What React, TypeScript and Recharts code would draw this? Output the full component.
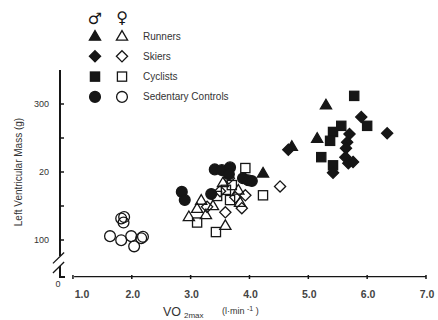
import React from 'react';
import { ScatterChart, Scatter, XAxis, YAxis, ReferenceLine, Label } from 'recharts';

// VO2max (l/min) vs left ventricular mass (g), one array per group
const maleRunners = [[5.3, 299], [5.15, 250], [4.72, 238], [4.23, 199]];
const femaleRunners = [[2.97, 135], [3.11, 147], [3.26, 138], [3.18, 159], [3.38, 151], [3.59, 122], [3.84, 156], [3.81, 174], [3.55, 185]];
const maleSkiers = [[5.9, 281], [6.34, 257], [5.7, 256], [5.66, 244], [5.64, 235], [5.63, 222], [5.68, 213], [5.76, 215], [5.42, 199], [4.66, 233]];
const femaleSkiers = [[3.28, 149], [3.59, 141], [3.87, 147], [3.93, 166], [3.76, 163], [3.65, 191], [4.52, 179], [3.5, 172]];
const maleCyclists = [[5.78, 312], [6.0, 268], [5.56, 268], [5.42, 259], [5.37, 246], [5.22, 222], [5.42, 210]];
const femaleCyclists = [[3.11, 126], [3.43, 112], [3.6, 174], [3.67, 159], [3.93, 206], [4.23, 166], [3.7, 181], [3.45, 165]];
const maleSedentary = [[2.85, 171], [2.9, 159], [3.35, 168], [3.41, 204], [3.53, 203], [3.67, 207], [3.65, 197], [3.89, 191], [3.98, 188], [4.04, 187]];
const femaleSedentary = [[1.63, 106], [1.82, 100], [1.99, 106], [2.16, 103], [2.04, 91], [1.82, 132], [1.87, 134], [1.86, 126], [2.19, 105]];

const groups = ['Runners', 'Skiers', 'Cyclists', 'Sedentary Controls'];
const xTicks = [1, 2, 3, 4, 5, 6, 7];
const yTicks = [46, 100, 150, 200, 250, 300];
const yTickLabels: Record<number, string> = { 46: '0', 100: '100', 150: '', 200: '20', 250: '', 300: '300' };

const INK = '#161616';
const TEXT = '#333';
const FONT = '"Liberation Sans", Arial, sans-serif';

type Kind = 'triangle' | 'diamond' | 'square' | 'circle';

const Marker = ({ cx, cy, kind, filled }: { cx: number; cy: number; kind: Kind; filled: boolean }) => {
  const fill = filled ? INK : 'none';
  const common = { fill, stroke: INK, strokeWidth: 1.3 };
  if (kind === 'circle') return <circle cx={cx} cy={cy} r={5.4} {...common} />;
  if (kind === 'square') return <rect x={cx - 4.6} y={cy - 4.6} width={9.2} height={9.2} {...common} />;
  if (kind === 'diamond')
    return <path d={`M${cx},${cy - 5.6}L${cx + 5.6},${cy}L${cx},${cy + 5.6}L${cx - 5.6},${cy}Z`} {...common} />;
  return <path d={`M${cx},${cy - 5.4}L${cx + 5.6},${cy + 4.2}L${cx - 5.6},${cy + 4.2}Z`} {...common} />;
};

const toPoints = (rows: number[][]) => rows.map(([x, y]) => ({ x, y }));

const series: { name: string; kind: Kind; filled: boolean; rows: number[][] }[] = [
  { name: 'femaleSedentary', kind: 'circle', filled: false, rows: femaleSedentary },
  { name: 'femaleRunners', kind: 'triangle', filled: false, rows: femaleRunners },
  { name: 'femaleCyclists', kind: 'square', filled: false, rows: femaleCyclists },
  { name: 'femaleSkiers', kind: 'diamond', filled: false, rows: femaleSkiers },
  { name: 'maleSedentary', kind: 'circle', filled: true, rows: maleSedentary },
  { name: 'maleRunners', kind: 'triangle', filled: true, rows: maleRunners },
  { name: 'maleCyclists', kind: 'square', filled: true, rows: maleCyclists },
  { name: 'maleSkiers', kind: 'diamond', filled: true, rows: maleSkiers },
];

const legendKinds: Kind[] = ['triangle', 'diamond', 'square', 'circle'];

// legend plus the broken y-axis line, laid over the chart
const Overlay = () => (
  <svg width={438} height={320} style={{ position: 'absolute', left: 0, top: 0, display: 'block', pointerEvents: 'none' }}>
    <rect x={59} y={70} width={2} height={186} fill={INK} />
    <rect x={59} y={266} width={2} height={12} fill={INK} />
    <rect x={59} y={276} width={6} height={2} fill={INK} />
    {[104, 138, 172, 206, 240].map((y) => (
      <rect key={y} x={59} y={y - 0.75} width={5} height={1.5} fill={INK} />
    ))}
    <text x={95} y={24} textAnchor="middle" fontSize={16} fontFamily="DejaVu Sans" fill={INK}>♂</text>
    <text x={122} y={23} textAnchor="middle" fontSize={16} fontFamily="DejaVu Sans" fill={INK}>♀</text>
    {groups.map((g, i) => {
      const cy = 36 + i * 20.3;
      return (
        <g key={g}>
          <Marker cx={95} cy={cy} kind={legendKinds[i]} filled />
          <Marker cx={122} cy={cy} kind={legendKinds[i]} filled={false} />
          <text x={143} y={cy + 3.5} fontSize={10} fontFamily={FONT} fill={TEXT}>{g}</text>
        </g>
      );
    })}
  </svg>
);

const YTick = (props: any) => {
  const { x, y, payload } = props;
  const v = payload.value;
  if (v === 46) {
    return (
      <text x={x - 2} y={y + 10} textAnchor="middle" fontSize={9} fontFamily={FONT} fill={TEXT}>0</text>
    );
  }
  return (
    <text x={x - 11} y={y + 3} textAnchor="end" fontSize={9} fontFamily={FONT} fill={TEXT}>{yTickLabels[v]}</text>
  );
};

const XTick = (props: any) => {
  const { x, y, payload } = props;
  const v = payload.value;
  return (
    <g>
      <rect x={x - 0.75} y={y - 4} width={1.5} height={4} fill={INK} />
      <text x={x + (v === 1 ? 9 : 1)} y={y + 19} textAnchor="middle" fontSize={10.5} fontWeight="bold" fontFamily={FONT} fill="#444">
        {v.toFixed(1)}
      </text>
    </g>
  );
};

const XTitle = (props: any) => {
  const { x, y } = props.viewBox;
  return (
    <g fontFamily={FONT} fill={TEXT}>
      <text x={x + 103} y={y + 39} fontSize={12.5}>VO</text>
      <text x={x + 124} y={y + 41} fontSize={8}>2max</text>
      <text x={x + 162} y={y + 37} fontSize={9}>(l·min <tspan fontSize={7} dy={-3}>-1</tspan><tspan dy={3}> )</tspan></text>
    </g>
  );
};

const YTitle = () => (
  <text x={22} y={172} transform="rotate(-90 22 172)" textAnchor="middle" fontSize={10} fontFamily={FONT} fill={TEXT}>
    Left Ventricular Mass (g)
  </text>
);

export default function App() {
  return (
    <div style={{ position: 'absolute', left: 0, top: 0, width: 438, height: 320, background: '#fff' }}>
      <ScatterChart width={438} height={320} margin={{ top: 70, right: 12, bottom: 0, left: 0 }}>
        <XAxis
          type="number"
          dataKey="x"
          domain={[0.78, 7]}
          ticks={xTicks}
          allowDataOverflow
          axisLine={false}
          tickLine={false}
          tickSize={0}
          height={43}
          tick={<XTick />}
          interval={0}
        >
          <Label content={<XTitle />} />
        </XAxis>
        <YAxis
          type="number"
          dataKey="y"
          domain={[46, 350]}
          ticks={yTicks}
          allowDataOverflow
          axisLine={false}
          tickLine={false}
          tickSize={0}
          tickMargin={0}
          width={60}
          tick={<YTick />}
          interval={0}
        >
          <Label content={<YTitle />} />
        </YAxis>
        {/* axis break marks */}
        <ReferenceLine segment={[{ x: 0.66, y: 66 }, { x: 0.85, y: 82 }]} stroke={INK} strokeWidth={1.3} ifOverflow="visible" />
        <ReferenceLine segment={[{ x: 0.66, y: 52 }, { x: 0.85, y: 68 }]} stroke={INK} strokeWidth={1.3} ifOverflow="visible" />
        {/* x axis */}
        <ReferenceLine segment={[{ x: 1.02, y: 46.5 }, { x: 7, y: 46.5 }]} stroke={INK} strokeWidth={1.4} ifOverflow="visible" />
        {series.map((s) => (
          <Scatter
            key={s.name}
            name={s.name}
            data={toPoints(s.rows)}
            isAnimationActive={false}
            shape={(p: any) => <Marker cx={p.cx} cy={p.cy} kind={s.kind} filled={s.filled} />}
          />
        ))}
      </ScatterChart>
      <Overlay />
    </div>
  );
}
